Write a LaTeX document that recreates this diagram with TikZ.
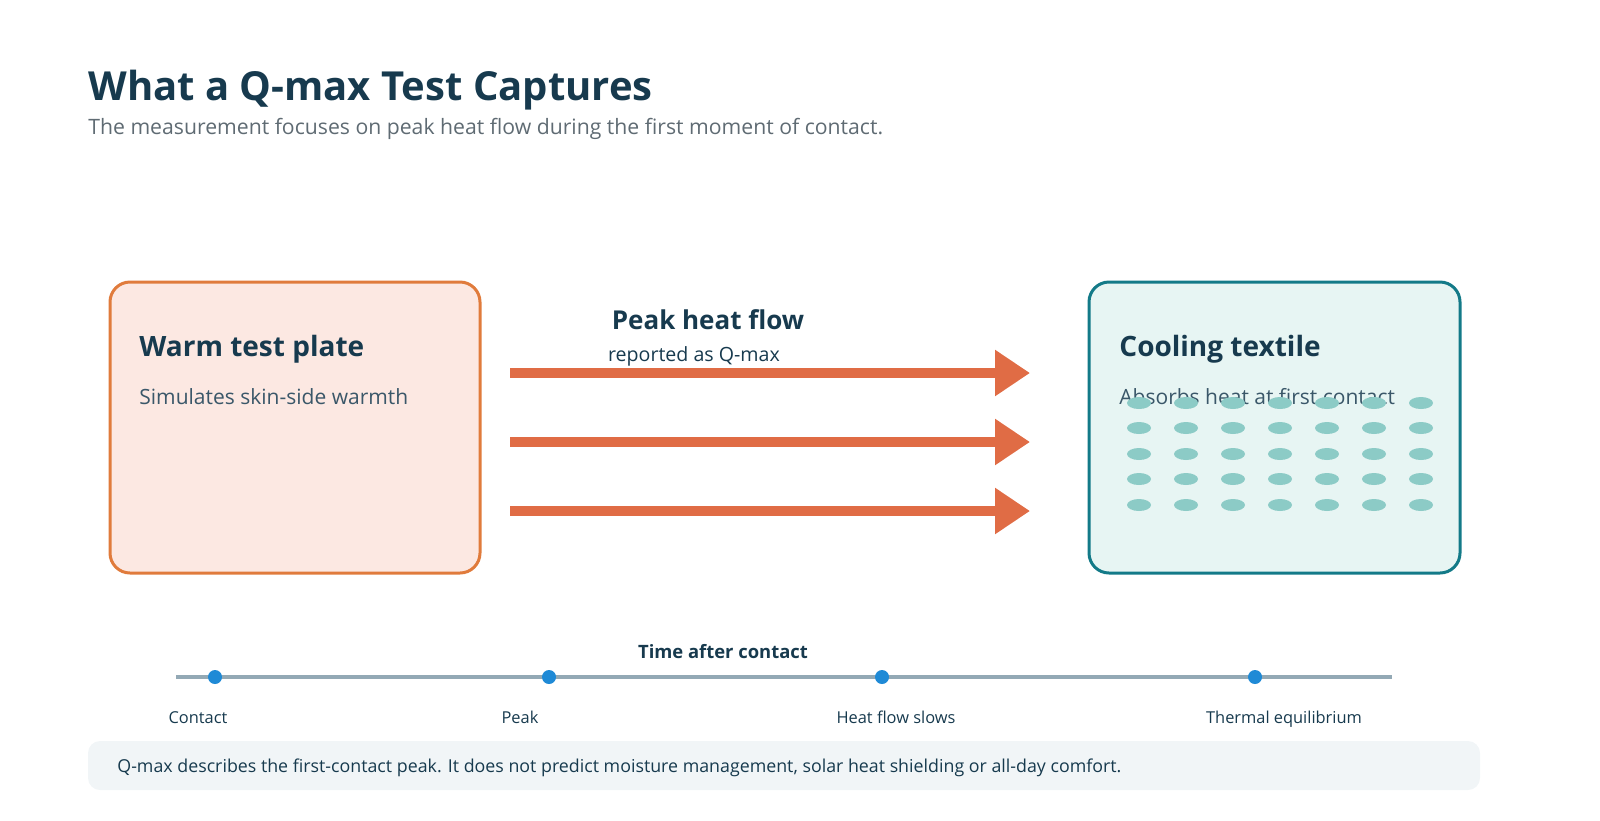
\documentclass[tikz,border=0pt]{standalone}
\usepackage{fontspec}
\setmainfont{Open Sans}
\usetikzlibrary{arrows.meta,shapes.geometric}
\definecolor{ink}{HTML}{173A4E}
\definecolor{sub}{HTML}{5F6B73}
\definecolor{warmf}{HTML}{FCE8E2}
\definecolor{warmd}{HTML}{E07B3C}
\definecolor{coolf}{HTML}{E7F5F3}
\definecolor{coold}{HTML}{137A88}
\definecolor{arr}{HTML}{E06C45}
\definecolor{dotc}{HTML}{8CCBC6}
\definecolor{tl}{HTML}{93A9B5}
\definecolor{tdot}{HTML}{1F8AD6}
\definecolor{foot}{HTML}{F1F5F7}
\tikzset{
 box/.style={rounded corners=10pt,line width=1.5pt},
 flow/.style={draw=arr,line width=4.6pt,-{Triangle[length=17.5pt,width=22pt]}},
 tdot/.style={circle,fill=tdot,inner sep=0pt,minimum size=7pt},
 tlab/.style={font=\fontsize{8.2}{10}\selectfont,text=ink},
 fab/.style={ellipse,fill=dotc,inner sep=0pt,minimum width=12pt,minimum height=6pt},
}
\begin{document}
\begin{tikzpicture}[x=0.5pt,y=-0.5pt]
\useasboundingbox (0,0) rectangle (1600,820);
\node[anchor=base west,inner sep=0,text=ink,font=\fontsize{20}{24}\bfseries\selectfont] (title) at (88,100) {What a Q-max Test Captures};
\node[anchor=base west,inner sep=0,text=sub,font=\fontsize{10.6}{12}\selectfont] (subt) at (88,134) {The measurement focuses on peak heat flow during the first moment of contact.};
\draw[box,fill=warmf,draw=warmd] (110,282) rectangle (480,573);
\node[anchor=base west,inner sep=0,text=ink,font=\fontsize{14}{16}\bfseries\selectfont] (wt) at (139,356) {Warm test plate};
\node[anchor=base west,inner sep=0,text=ink!85,font=\fontsize{10.5}{12}\selectfont] (wb) at (139,404) {Simulates skin-side warmth};
\draw[box,fill=coolf,draw=coold] (1089,282) rectangle (1460,573);
\node[anchor=base west,inner sep=0,text=ink,font=\fontsize{14}{16}\bfseries\selectfont] (ct) at (1119,356) {Cooling textile};
\node[anchor=base west,inner sep=0,text=ink!85,font=\fontsize{10.5}{12}\selectfont] (cb) at (1119,404) {Absorbs heat at first contact};
\foreach \x in {1139,1186,1233,1280,1327,1374,1421}
 \foreach \y in {403,428,454,479,505}
  \node[fab] (f\x-\y) at (\x,\y) {};
\foreach \y [count=\i] in {373,442,511}{
 \coordinate (s\i) at (510,\y); \coordinate (e\i) at (1030,\y);
 \draw[flow] (s\i) -- (e\i);}
\node[text=ink,font=\fontsize{13}{15}\bfseries\selectfont] (pk) at (708,320) {Peak heat flow};
\node[text=ink,font=\fontsize{9.8}{11}\selectfont] (rq) at (694,356) {reported as Q-max};
\coordinate (t0) at (176,677); \coordinate (t1) at (1392,677);
\draw[tl,line width=2pt] (t0) -- (t1);
\node[text=ink,font=\fontsize{9.2}{11}\bfseries\selectfont] (tac) at (723,652) {Time after contact};
\foreach \x/\xl/\t/\n in {215/198/Contact/a,549/520/Peak/b,882/896/Heat flow slows/c,1255/1284/Thermal equilibrium/d}{
 \node[tdot] (d\n) at (\x,677) {};
 \node[tlab,anchor=base] (l\n) at (\xl,723) {\t};}
\draw[fill=foot,draw=none,rounded corners=6pt] (88,741) rectangle (1480,790);
\node[anchor=west,inner sep=0,text=ink,font=\fontsize{8.9}{10}\selectfont] (ft) at (117,768) {Q-max describes the first-contact peak. It does not predict moisture management, solar heat shielding or all-day comfort.};
\end{tikzpicture}
\end{document}
